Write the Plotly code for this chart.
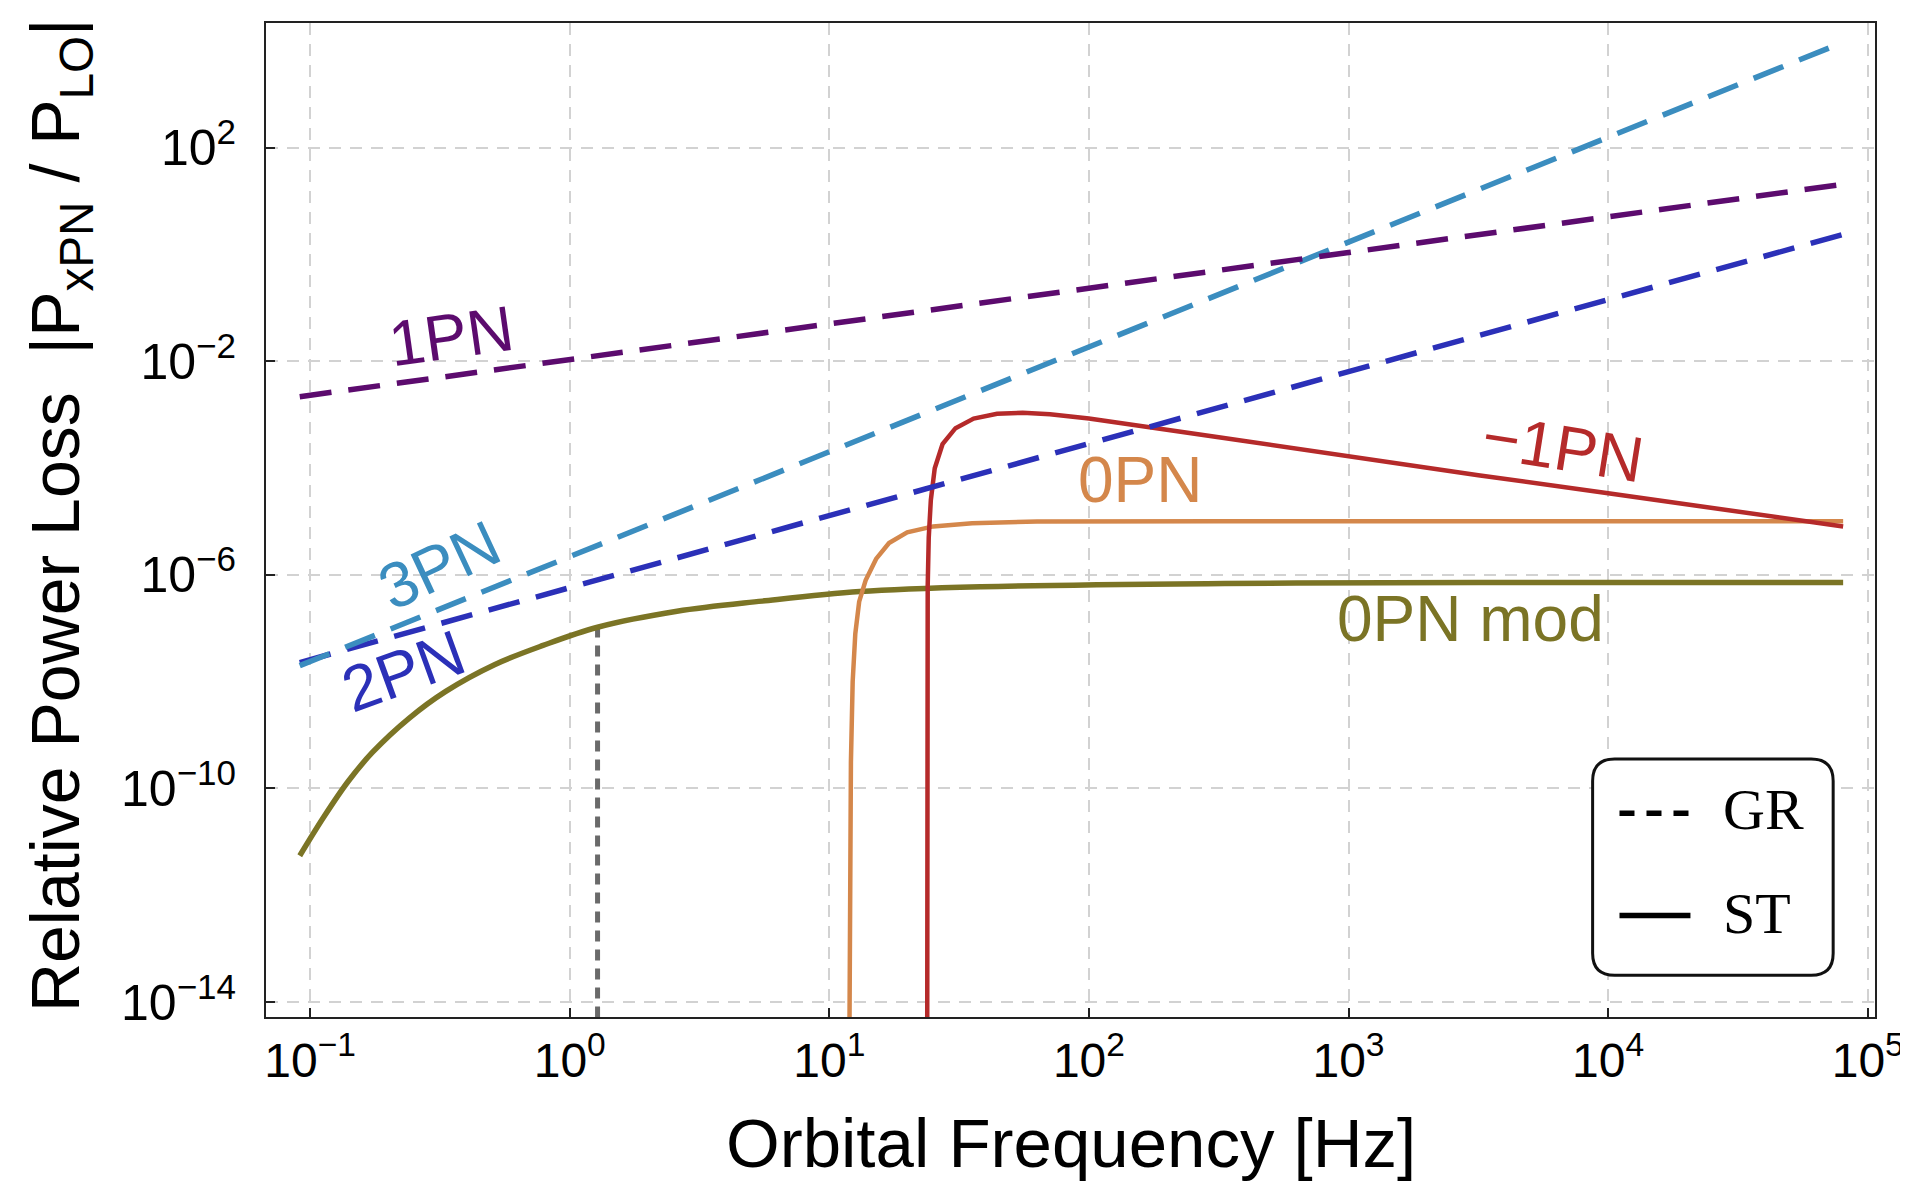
import plotly.graph_objects as go

# ---------------- data ----------------
x_tick_vals = [0.1, 1, 10, 100, 1000, 10000, 100000]
x_tick_text = ["10<sup>\u22121</sup>", "10<sup>0</sup>", "10<sup>1</sup>", "10<sup>2</sup>",
               "10<sup>3</sup>", "10<sup>4</sup>", "10<sup>5</sup>"]
y_tick_vals = [1e2, 1e-2, 1e-6, 1e-10, 1e-14]
y_tick_text = ["10<sup>2</sup>", "10<sup>\u22122</sup>", "10<sup>\u22126</sup>",
               "10<sup>\u221210</sup>", "10<sup>\u221214</sup>"]

# GR (dashed) curves
f_gr = [0.0912, 1, 10, 100, 1000, 1e4, 8.04e4]
p_1pn = [2.19e-3, 1.07e-2, 5.01e-2, 0.234, 1.10, 5.13, 20.9]
p_2pn = [2.29e-8, 5.75e-7, 1.29e-5, 2.88e-4, 6.46e-3, 0.145, 2.40]
p_3pn = [2.00e-8, 2.19e-6, 2.04e-4, 1.86e-2, 1.74, 158, 9550]

# ST (solid) curves
f_m1pn = [23.82, 23.82, 23.93, 24.15, 24.60, 25.47, 27.29, 30.62, 35.97, 44.26, 55.59,
          70.79, 100, 316.2, 1000, 3162, 1e4, 31620, 8.04e4]
p_m1pn = [1e-15, 1e-8, 6.31e-7, 5.01e-6, 2.51e-5, 1.0e-4, 2.82e-4, 5.62e-4, 8.51e-4,
          1.047e-3, 1.096e-3, 1.023e-3, 8.51e-4, 3.80e-4, 1.66e-4, 7.41e-5, 3.39e-5,
          1.55e-5, 8.13e-6]

f_0pn = [11.94, 11.99, 12.11, 12.30, 12.59, 13.03, 13.80, 15.14, 16.98, 19.95, 25.12,
         35.48, 63.10, 316.2, 8.04e4]
p_0pn = [1e-15, 1e-12, 3.16e-10, 1e-8, 7.94e-8, 3.16e-7, 7.94e-7, 2.0e-6, 3.98e-6,
         6.31e-6, 8.13e-6, 9.33e-6, 1.0e-5, 1.02e-5, 1.02e-5]

f_0pn_mod = [0.0912, 0.113, 0.140, 0.174, 0.241, 0.333, 0.513, 0.789, 1.28, 2.59, 5.51,
             13.1, 38.5, 333, 3162, 8.04e4]
p_0pn_mod = [5.50e-12, 2.95e-11, 1.35e-10, 4.79e-10, 2.09e-9, 6.61e-9, 2.09e-8, 4.79e-8,
             1.05e-7, 2.09e-7, 3.24e-7, 4.90e-7, 6.03e-7, 6.92e-7, 7.24e-7, 7.24e-7]

f_marker = [1.28, 1.28]
p_marker = [1e-15, 1.05e-7]

# labels: (text, log10 f, log10 P, colour, angle)
labels = [
    ("1PN", -0.454, -1.53, "#5c0b6e", -8),
    ("3PN", -0.50, -5.81, "#3b8dbf", -25),
    ("2PN", -0.64, -7.79, "#2b30b8", -20),
    ("0PN", 2.20, -4.22, "#d4874b", 0),
    ("\u22121PN", 3.826, -3.63, "#b52a2a", 9),
    ("0PN mod", 3.47, -6.82, "#7b7425", 0),
]

# ---------------- figure ----------------
W, H = 1908, 1182
ML, MR, MT, MB = 258, 41, 15, 173
FONT = "Liberation Sans, Arial, sans-serif"
DASH = "32px,17px"

fig = go.Figure()

fig.add_trace(go.Scatter(x=f_marker, y=p_marker, mode="lines",
                         line=dict(color="#6a6a6a", width=5, dash="11px,8px"),
                         showlegend=False, hoverinfo="skip"))
fig.add_trace(go.Scatter(x=f_0pn_mod, y=p_0pn_mod, mode="lines",
                         line=dict(color="#7b7425", width=5.5, shape="spline", smoothing=1.0),
                         showlegend=False))
fig.add_trace(go.Scatter(x=f_0pn, y=p_0pn, mode="lines",
                         line=dict(color="#d4874b", width=4.5),
                         showlegend=False))
fig.add_trace(go.Scatter(x=f_m1pn, y=p_m1pn, mode="lines",
                         line=dict(color="#b52a2a", width=4.5),
                         showlegend=False))
fig.add_trace(go.Scatter(x=f_gr, y=p_2pn, mode="lines",
                         line=dict(color="#2b30b8", width=5.5, dash=DASH),
                         showlegend=False))
fig.add_trace(go.Scatter(x=f_gr, y=p_3pn, mode="lines",
                         line=dict(color="#3b8dbf", width=5.5, dash=DASH),
                         showlegend=False))
fig.add_trace(go.Scatter(x=f_gr, y=p_1pn, mode="lines",
                         line=dict(color="#5c0b6e", width=5.5, dash=DASH),
                         showlegend=False))

for txt, lx, ly, col, ang in labels:
    fig.add_annotation(x=lx, y=ly, xref="x", yref="y", text=txt, showarrow=False,
                       textangle=ang, font=dict(family=FONT, size=64, color=col))

# legend box (rounded), drawn manually
pw = W - ML - MR
ph = H - MT - MB
bx0, bx1, by0, by1 = 0.8245, 0.9740, 0.0420, 0.2595
rx, ry = 22 / pw, 22 / ph
path = (f"M {bx0+rx},{by0} L {bx1-rx},{by0} Q {bx1},{by0} {bx1},{by0+ry} "
        f"L {bx1},{by1-ry} Q {bx1},{by1} {bx1-rx},{by1} L {bx0+rx},{by1} "
        f"Q {bx0},{by1} {bx0},{by1-ry} L {bx0},{by0+ry} Q {bx0},{by0} {bx0+rx},{by0} Z")
fig.add_shape(type="path", path=path, xref="paper", yref="paper",
              line=dict(color="#111111", width=3), fillcolor="white", layer="above")
fig.add_shape(type="line", xref="paper", yref="paper", x0=0.8412, x1=0.8853,
              y0=0.205, y1=0.205, line=dict(color="black", width=5.5, dash="15px,12px"),
              layer="above")
fig.add_shape(type="line", xref="paper", yref="paper", x0=0.8412, x1=0.8853,
              y0=0.102, y1=0.102, line=dict(color="black", width=5.5), layer="above")
fig.add_annotation(x=0.904, y=0.2085, xref="paper", yref="paper", text="GR",
                   showarrow=False, xanchor="left", yanchor="middle",
                   font=dict(family="Liberation Serif, Times New Roman, serif", size=58,
                             color="black"))
fig.add_annotation(x=0.904, y=0.1039, xref="paper", yref="paper", text="ST",
                   showarrow=False, xanchor="left", yanchor="middle",
                   font=dict(family="Liberation Serif, Times New Roman, serif", size=58,
                             color="black"))

# axis titles
fig.add_annotation(x=0.5, y=-0.127, xref="paper", yref="paper",
                   text="Orbital Frequency [Hz]", showarrow=False,
                   xanchor="center", yanchor="middle",
                   font=dict(family=FONT, size=69, color="black"))
fig.add_annotation(x=-0.128, y=0.505, xref="paper", yref="paper",
                   text="Relative Power Loss  |P<sub>xPN</sub> / P<sub>LO</sub>|",
                   showarrow=False, textangle=-90, xanchor="center", yanchor="middle",
                   font=dict(family=FONT, size=68, color="black"))

axis_common = dict(showline=True, linecolor="#222222", linewidth=2, mirror=True,
                   ticks="inside", ticklen=9, tickwidth=2, tickcolor="#222222",
                   showgrid=True, gridcolor="#d2d2d2", gridwidth=1.5, griddash="12px,9px",
                   zeroline=False)

fig.update_xaxes(type="log", range=[-1.170, 5.028], tickmode="array",
                 tickvals=x_tick_vals, ticktext=x_tick_text,
                 tickfont=dict(family=FONT, size=48, color="black"), **axis_common)
fig.update_yaxes(type="log", range=[-14.281, 4.341], tickmode="array",
                 tickvals=y_tick_vals, ticktext=y_tick_text, ticklabelstandoff=18,
                 tickfont=dict(family=FONT, size=50, color="black"), **axis_common)

fig.update_layout(width=W, height=H, margin=dict(l=ML, r=MR, t=MT, b=MB),
                  paper_bgcolor="white", plot_bgcolor="white", showlegend=False)

fig.write_html("out.html")
